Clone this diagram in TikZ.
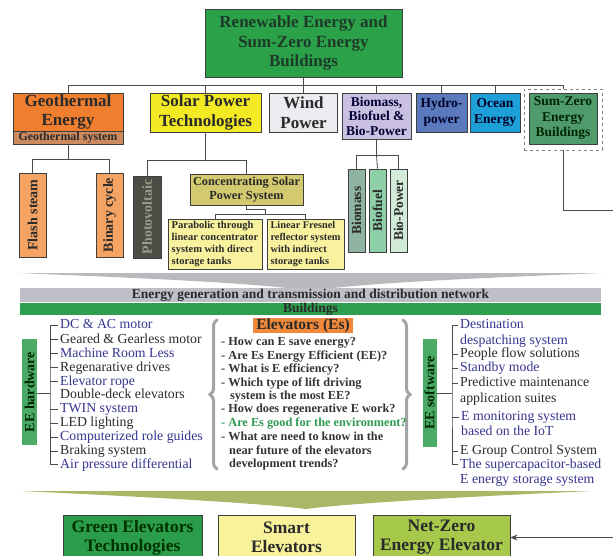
\documentclass[tikz,border=0pt]{standalone}
\usepackage{fontspec}
\setmainfont{Liberation Serif}
\usepackage{graphicx}
\usetikzlibrary{arrows.meta,decorations.pathreplacing}
\newcommand{\myfs}[2]{\fontsize{#1}{#2}\selectfont}
\definecolor{bordc}{HTML}{3F3F3F}
\definecolor{conc}{HTML}{4A4A4A}
\definecolor{cTop}{HTML}{2BA24A}
\definecolor{tTop}{HTML}{1E3A28}
\definecolor{cGeo}{HTML}{EF7E2F}
\definecolor{cGeoS}{HTML}{CD8A5F}
\definecolor{cFlash}{HTML}{F4A363}
\definecolor{cSolar}{HTML}{F3EA24}
\definecolor{cWind}{HTML}{EBEBF0}
\definecolor{cBio}{HTML}{C9C0E2}
\definecolor{cHydro}{HTML}{5B7ABE}
\definecolor{cOcean}{HTML}{1D9FD8}
\definecolor{cSZ}{HTML}{4F9B6C}
\definecolor{cPV}{HTML}{4D4D45}
\definecolor{tPV}{HTML}{9C9C8C}
\definecolor{cCSP}{HTML}{D3C96F}
\definecolor{cPara}{HTML}{F8F29E}
\definecolor{cBm}{HTML}{8FB4A2}
\definecolor{cBf}{HTML}{8DD0A7}
\definecolor{cBp}{HTML}{D2EAD8}
\definecolor{cGray}{HTML}{B8B9BD}
\definecolor{cBar}{HTML}{BFC0C7}
\definecolor{cBld}{HTML}{2D9F4E}
\definecolor{cEE}{HTML}{4BAA66}
\definecolor{cElev}{HTML}{F08A3A}
\definecolor{cBlue}{HTML}{353590}
\definecolor{cBlk}{HTML}{2A2A2A}
\definecolor{cQ}{HTML}{333333}
\definecolor{cQG}{HTML}{2E9A50}
\definecolor{cBrace}{HTML}{A3A4A8}
\definecolor{cGchev}{HTML}{A8B866}
\definecolor{cGE}{HTML}{2B9C49}
\definecolor{cSm}{HTML}{F8F29B}
\definecolor{cNZ}{HTML}{A6C94B}
\definecolor{tDark}{HTML}{2A2A2A}
\tikzset{
  bx/.style={draw=bordc, line width=0.7pt, inner sep=0pt, align=center, text=tDark},
  con/.style={draw=conc, line width=0.8pt},
  brc/.style={draw=cBrace, line width=3pt, line cap=round, decorate, decoration={brace, amplitude=7pt}},
  hw/.style={anchor=west, inner sep=0pt, text height=9.5pt, text depth=2.5pt, font=\myfs{13.8}{14}},
  q/.style={anchor=west, inner sep=0pt, text height=8.5pt, text depth=2.5pt, font=\myfs{12.3}{13}\bfseries, text=cQ},
  bigf/.style={font=\myfs{17}{19}\bfseries},
  vf/.style={font=\myfs{14}{14}\bfseries},
}
\begin{document}
\begin{tikzpicture}[x=1pt,y=-1pt]
\useasboundingbox (0,0) rectangle (613,555);
\fill[white] (0,0) rectangle (613,555);

% ---------- top ----------
\node[bx, fill=cTop, text=tTop, minimum width=197pt, minimum height=68pt, font=\myfs{17}{19.5}\bfseries] (top) at (303.5,43) {Renewable Energy and\\Sum-Zero Energy\\Buildings};

% ---------- first row ----------
\node[bx, fill=cGeo, text=tDark, minimum width=110pt, minimum height=38pt, bigf] (geo) at (68,112) {Geothermal\\Energy};
\node[bx, fill=cGeoS, minimum width=110pt, minimum height=13pt, font=\myfs{12}{12}\bfseries] (geosys) at (68,137.5) {Geothermal system};
\node[bx, fill=cSolar, minimum width=111pt, minimum height=39pt, font=\myfs{17}{20}\bfseries] (solar) at (205.5,112.5) {Solar Power\\Technologies};
\node[bx, fill=cWind, minimum width=68pt, minimum height=39pt, font=\myfs{17}{20}\bfseries] (wind) at (303.5,112.5) {Wind\\Power};
\node[bx, fill=cBio, text=black!80!blue, minimum width=69pt, minimum height=46pt, font=\myfs{13.5}{14.5}\bfseries] (bio) at (376.5,116) {Biomass,\\Biofuel \&\\Bio-Power};
\node[bx, fill=cHydro, text=black!85!blue, minimum width=51pt, minimum height=39pt, font=\myfs{13.5}{16}\bfseries] (hydro) at (441.5,112.5) {Hydro-\\power};
\node[bx, fill=cOcean, text=black!85!blue, minimum width=50pt, minimum height=39pt, font=\myfs{13.5}{16}\bfseries] (ocean) at (495,112.5) {Ocean\\Energy};
\node[draw=gray, dashed, line width=0.9pt, inner sep=0pt, minimum width=78pt, minimum height=61pt] (szout) at (563,119.5) {};
\node[bx, fill=cSZ, text=black!85!green, minimum width=68pt, minimum height=51pt, font=\myfs{13.5}{15.5}\bfseries] (sz) at (563,118.5) {Sum-Zero\\Energy\\Buildings};

\coordinate (bus) at (303.5,85);
\draw[con] (top.south) -- (bus);
\foreach \n in {geo,solar,wind,bio,hydro,ocean,szout} \draw[con] (\n.north) |- (bus);

% ---------- geothermal children ----------
\node[bx, fill=cFlash, minimum width=27pt, minimum height=84pt, vf] (flash) at (32.5,215) {\rotatebox{90}{Flash steam}};
\node[bx, fill=cFlash, minimum width=27pt, minimum height=84pt, vf] (binary) at (109.5,215) {\rotatebox{90}{Binary cycle}};
\coordinate (gj) at (68,159);
\draw[con] (geosys.south) -- (gj);
\draw[con] (flash.north) |- (gj);
\draw[con] (binary.north) |- (gj);

% ---------- solar children ----------
\node[bx, fill=cPV, text=tPV, minimum width=28pt, minimum height=82pt, vf] (pv) at (147,217) {\rotatebox{90}{Photovoltaic}};
\node[bx, fill=cCSP, minimum width=113pt, minimum height=31pt, font=\myfs{12.3}{14}\bfseries] (csp) at (246.5,189.5) {Concentrating Solar\\Power System};
\coordinate (sj) at (205.5,160);
\draw[con] (solar.south) -- (sj);
\draw[con] (pv.north) |- (sj);
\draw[con] (csp.north) |- (sj);

\node[bx, fill=cPara, align=left, minimum width=94pt, minimum height=50pt, font=\myfs{10.5}{11.8}\bfseries] (para) at (215,244) {Parabolic through\\linear concentrator\\system with direct\\storage tanks};
\node[bx, fill=cPara, align=left, minimum width=77pt, minimum height=50pt, font=\myfs{10.3}{11.8}\bfseries] (linf) at (305.5,244) {Linear Fresnel\\reflector system\\with indirect\\storage tanks};
\coordinate (cj) at (265,214.5);
\draw[con] (csp.south) -- ++(0,4.5) -| (cj);
\draw[con] (para.north) |- (cj);
\draw[con] (linf.north) |- (cj);

% ---------- bio children ----------
\node[bx, fill=cBm, minimum width=17pt, minimum height=83pt, font=\myfs{13.5}{14}\bfseries] (bm) at (356.5,210.5) {\rotatebox{90}{Biomass}};
\node[bx, fill=cBf, minimum width=17pt, minimum height=83pt, font=\myfs{13.5}{14}\bfseries] (bf) at (377.5,210.5) {\rotatebox{90}{Biofuel}};
\node[bx, fill=cBp, minimum width=17pt, minimum height=83pt, font=\myfs{13.5}{14}\bfseries] (bp) at (398.5,210.5) {\rotatebox{90}{Bio-Power}};
\coordinate (bj) at (376.5,155);
\draw[con] (bio.south) -- (bj);
\draw[con] (bm.north) |- (bj);
\draw[con] (bf.north) -- (bj);
\draw[con] (bp.north) |- (bj);

% ---------- gray chevron and bars ----------
\fill[cGray] (18,273) -- (602,273) .. controls (480,278) and (360,283) .. (310,291) .. controls (260,283) and (140,278) .. (18,273) -- cycle;
\node[fill=cBar, inner sep=0pt, minimum width=581pt, minimum height=14pt, font=\myfs{13.5}{14}\bfseries, text=tDark] (egn) at (310.5,295) {Energy generation and transmission and distribution network};
\node[fill=cBld, inner sep=0pt, minimum width=581pt, minimum height=12pt, font=\myfs{13.5}{14}\bfseries, text=tDark] (bld) at (310.5,309) {Buildings};

% ---------- hardware ----------
\node[bx, fill=cEE, draw=none, text=black!85!green, minimum width=15pt, minimum height=106pt, vf] (hwbox) at (29.5,392) {\rotatebox{90}{EE hardware}};
\node[hw, text=cBlue] (h1) at (60,325) {DC \& AC motor};
\node[hw, text=cBlk] (h2) at (60,339.5) {Geared \& Gearless motor};
\node[hw, text=cBlue] (h3) at (60,353.5) {Machine Room Less};
\node[hw, text=cBlk] (h4) at (60,367.5) {Regenarative drives};
\node[hw, text=cBlue] (h5) at (60,381.5) {Elevator rope};
\node[hw, text=cBlk] (h6) at (60,395) {Double-deck elevators};
\node[hw, text=cBlue] (h7) at (60,409) {TWIN system};
\node[hw, text=cBlk] (h8) at (60,423) {LED lighting};
\node[hw, text=cBlue] (h9) at (60,437) {Computerized role guides};
\node[hw, text=cBlk] (h10) at (60,451) {Braking system};
\node[hw, text=cBlue] (h11) at (60,464.5) {Air pressure differential};
\coordinate (hwx) at (50,393);
\draw[con] (hwbox.east |- hwx) -- (hwx);
\draw[con] ([xshift=-2pt]h1.west) -| (hwx) |- ([xshift=-2pt]h11.west);
\foreach \i in {2,3,4,5,7,8,9,10} \draw[con] (h\i.west -| hwx) -- ([xshift=-2pt]h\i.west);

% ---------- questions ----------
\draw[brc] (217,469) -- (217,320);
\draw[brc] (403,320) -- (403,469);
\node[fill=cElev, inner sep=0pt, minimum width=100pt, minimum height=13pt, font=\myfs{15.5}{16}\bfseries, text=tDark] (elev) at (303,325.5) {Elevators (Es)};
\node[q] (q1) at (221,342) {- How can E save energy?};
\node[q] (q2) at (221,356) {- Are Es Energy Efficient (EE)?};
\node[q] (q3) at (221,369) {- What is E efficiency?};
\node[q] (q4) at (221,383) {- Which type of lift driving};
\node[q] (q4b) at (230,396) {system is the most EE?};
\node[q] (q5) at (221,409) {- How does regenerative E work?};
\node[q, text=cQG] (q6) at (221,423) {- Are Es good for the environment?};
\node[q] (q7) at (221,437) {- What are need to know in the};
\node[q] (q7b) at (229,451) {near future of the elevators};
\node[q] (q7c) at (229,464) {development trends?};

% ---------- software ----------
\node[bx, fill=cEE, draw=none, text=black!85!green, minimum width=14pt, minimum height=108pt, vf] (swbox) at (429.5,393) {\rotatebox{90}{EE software}};
\node[hw, text=cBlue] (s1) at (460,325) {Destination};
\node[hw, text=cBlue] (s1b) at (460,341) {despatching system};
\node[hw, text=cBlk] (s2) at (460,354) {People flow solutions};
\node[hw, text=cBlue] (s3) at (460,368) {Standby mode};
\node[hw, text=cBlk] (s4) at (460,383) {Predictive maintenance};
\node[hw, text=cBlk] (s4b) at (460,399) {application suites};
\node[hw, text=cBlue] (s5) at (461,417) {E monitoring system};
\node[hw, text=cBlue] (s5b) at (461,432) {based on the IoT};
\node[hw, text=cBlk] (s6) at (460,451) {E Group Control System};
\node[hw, text=cBlue] (s7) at (460,464.5) {The supercapacitor-based};
\node[hw, text=cBlue] (s7b) at (460,480) {E energy storage system};
\coordinate (swx) at (452,393);
\draw[con] (swbox.east |- swx) -- (swx);
\draw[con] ([xshift=-2pt]s1.west) -| (swx) |- ([xshift=-2pt]s7.west);
\foreach \i in {2,3,4,5,6} \draw[con] (s\i.west -| swx) -- ([xshift=-2pt]s\i.west);

% ---------- green chevron ----------
\fill[cGchev] (20,491) -- (592,491) .. controls (480,496) and (350,503) .. (306,509) .. controls (260,503) and (130,496) .. (20,491) -- cycle;

% ---------- bottom boxes ----------
\node[bx, fill=cGE, text=black!80!green, minimum width=139pt, minimum height=45pt, font=\myfs{17.5}{19}\bfseries] (ge) at (132.5,537.5) {Green Elevators\\Technologies};
\node[bx, fill=cSm, minimum width=137pt, minimum height=45pt, font=\myfs{17.5}{19}\bfseries] (sm) at (286.5,537.5) {Smart\\Elevators};
\node[bx, fill=cNZ, minimum width=137pt, minimum height=45pt, font=\myfs{17.5}{19}\bfseries] (nz) at (441.5,537.5) {Net-Zero\\Energy Elevator};

\coordinate (redge) at (630,210);
\draw[con, -{Stealth[length=7pt,width=6pt]}] (szout.south) |- (redge) |- (nz.east);
\end{tikzpicture}
\end{document}
